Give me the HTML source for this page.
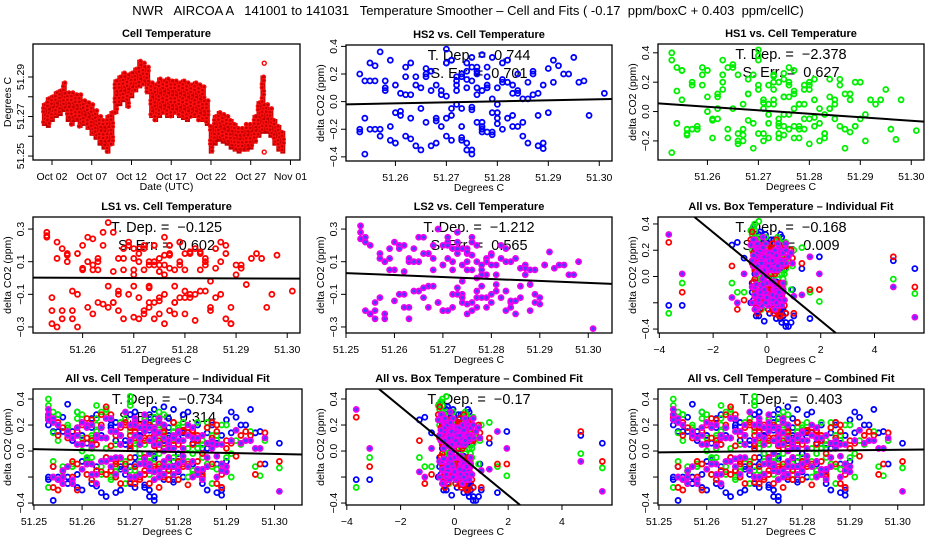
<!DOCTYPE html>
<html><head><meta charset="utf-8">
<style>
html,body{margin:0;padding:0;background:#fff;width:936px;height:540px;overflow:hidden;}
svg{display:block;font-family:"Liberation Sans",sans-serif;overflow:hidden;}
</style></head>
<body>
<svg id="chart" width="936" height="540" viewBox="0 0 936 540" xmlns="http://www.w3.org/2000/svg">
<rect x="0" y="0" width="936" height="540" fill="#fff"/>
<text x="468" y="15" text-anchor="middle" font-size="13" xml:space="preserve">NWR   AIRCOA A   141001 to 141031   Temperature Smoother – Cell and Fits ( -0.17  ppm/boxC + 0.403  ppm/cellC)</text>
</svg>
<script>
// ---------- Panel 1 data: cell temperature time series (half-day bands) ----------
const days = [1,1.5,2,2.5,3,3.5,4,4.5,5,5.5,6,6.5,7,7.5,8,8.5,9,9.5,10,10.5,11,11.5,12,12.5,13,13.5,14,14.5,15,15.5,16,16.5,17,17.5,18,18.5,19,19.5,20,20.5,21,21.5,22,22.5,23,23.5,24,24.5,25,25.5,26,26.5,27,27.5,28,28.5,29,29.5,30,30.5,31];
const tempLow = [51.266,51.265,51.268,51.270,51.271,51.273,51.268,51.266,51.268,51.265,51.266,51.264,51.261,51.259,51.256,51.254,51.252,51.256,51.272,51.276,51.278,51.275,51.280,51.283,51.285,51.286,51.282,51.270,51.268,51.270,51.272,51.270,51.270,51.272,51.270,51.269,51.268,51.270,51.270,51.268,51.268,51.266,51.252,51.256,51.258,51.257,51.256,51.254,51.253,51.252,51.253,51.253,51.254,51.257,51.260,51.262,51.262,51.260,51.256,51.253,51.252];
const tempHigh = [51.276,51.279,51.280,51.282,51.283,51.287,51.282,51.282,51.281,51.281,51.278,51.277,51.276,51.273,51.270,51.268,51.270,51.272,51.288,51.290,51.292,51.291,51.292,51.294,51.298,51.297,51.295,51.287,51.286,51.289,51.288,51.289,51.288,51.288,51.287,51.288,51.287,51.286,51.287,51.286,51.285,51.278,51.265,51.270,51.272,51.271,51.270,51.268,51.266,51.264,51.264,51.266,51.266,51.270,51.277,51.290,51.276,51.274,51.268,51.265,51.262];
const outlierDays = [28.7,28.7];
const outlierTemps = [51.297,51.252];

// ---------- Scatter data ----------
const cellTemp = [
51.253,51.254,51.255,51.256,51.257,51.258,51.259,51.260,51.261,51.262,
51.263,51.264,51.265,51.266,51.267,51.268,51.269,51.270,51.271,51.272,
51.273,51.274,51.275,51.276,51.277,51.278,51.279,51.280,51.281,51.282,
51.283,51.284,51.285,51.286,51.287,51.288,51.289,51.290,51.291,51.293,
51.253,51.255,51.257,51.258,51.260,51.262,51.263,51.265,51.266,51.268,
51.269,51.270,51.271,51.272,51.273,51.274,51.275,51.275,51.276,51.277,
51.278,51.279,51.280,51.281,51.283,51.284,51.286,51.288,51.290,51.294,
51.254,51.256,51.259,51.261,51.264,51.267,51.270,51.272,51.273,51.274,
51.275,51.276,51.277,51.278,51.280,51.282,51.285,51.287,51.289,51.295,
51.262,51.266,51.270,51.272,51.274,51.276,51.279,51.283,51.297,51.301,
51.254,51.257,51.259,51.261,51.263,51.265,51.267,51.268,51.269,51.270,
51.271,51.272,51.273,51.274,51.275,51.276,51.277,51.278,51.279,51.280,
51.281,51.282,51.284,51.286,51.288,51.292,51.255,51.258,51.260,51.262,
51.264,51.266,51.268,51.270,51.271,51.273,51.274,51.275,51.276,51.277,
51.278,51.279,51.281,51.283,51.285,51.287,51.289,51.291,51.253,51.256,
51.263,51.267,51.271,51.273,51.275,51.277,51.280,51.284,51.296,51.298];
const boxTemp = [
-0.45,0.30,-0.35,0.50,-0.55,0.05,0.40,-0.20,0.25,-0.10,
0.55,-0.30,-0.05,0.35,-0.40,0.60,-0.15,-0.50,0.20,0.10,
0.45,-0.25,0.70,-0.35,0.30,0.00,0.15,0.40,-0.10,-0.30,
0.50,-0.20,0.60,0.10,-0.45,0.35,0.25,-0.05,0.55,-0.25,
-3.65,0.45,-0.15,0.30,-0.40,0.65,-0.30,-0.55,0.40,0.05,
-0.20,0.50,-0.10,0.25,-0.50,0.35,0.80,-0.20,0.10,-0.35,
0.15,0.45,-0.25,0.30,0.00,0.55,-0.05,0.40,-1.30,0.20,
0.70,-0.40,0.50,-0.15,-0.45,1.60,-0.30,0.20,-0.35,0.60,
-0.05,-0.35,0.45,-0.10,0.30,-0.20,0.55,-0.40,1.00,-0.30,
0.35,-0.10,-0.55,0.25,0.90,-0.45,-3.15,4.70,1.95,5.50,
-0.30,0.40,-0.10,0.20,-0.45,0.55,0.00,-0.25,0.35,0.15,
-0.35,0.60,0.10,-0.15,0.45,-0.05,0.25,-0.40,0.50,0.05,
-0.20,0.30,0.65,-0.30,0.15,-0.50,0.40,-0.10,0.20,-0.25,
0.50,-0.40,0.10,0.35,-0.15,0.55,-0.35,0.00,0.30,-0.05,
0.45,-0.20,0.25,0.60,-0.45,0.15,-0.10,0.40,-0.60,-1.10,
0.20,-0.30,0.70,-0.15,0.35,-0.25,0.05,1.30,-0.85,0.95];
const hs2 = [0.20,-0.12,0.15,-0.20,0.36,0.08,-0.18,0.12,-0.07,0.25,
-0.27,0.18,0.10,-0.15,0.22,-0.30,0.05,0.38,-0.10,0.15,
-0.05,0.28,-0.35,0.20,-0.22,0.10,0.02,-0.12,0.16,0.30,
-0.18,0.08,-0.25,0.14,0.22,-0.32,0.12,-0.08,0.30,0.20,
-0.22,0.28,-0.20,0.15,-0.30,0.05,0.28,-0.05,0.18,-0.12,
0.08,-0.25,0.30,0.12,-0.18,0.22,-0.38,0.15,0.05,-0.15,
0.25,-0.08,0.10,-0.20,0.06,-0.18,0.02,-0.10,0.24,0.20,
-0.38,0.15,-0.28,0.06,0.12,-0.32,0.28,-0.02,0.20,-0.30,
0.32,0.10,-0.20,0.18,-0.08,0.14,-0.15,0.05,-0.30,0.32,
-0.25,0.20,-0.12,0.08,-0.35,0.25,-0.22,0.12,0.15,0.06,
0.15,-0.25,0.30,-0.10,0.05,-0.35,0.22,0.12,-0.18,0.28,
-0.05,0.18,-0.28,0.10,0.25,-0.15,0.08,-0.22,0.32,-0.02,
0.14,-0.12,0.20,-0.30,0.06,0.26,-0.20,0.10,-0.08,0.18,
-0.32,0.24,-0.14,0.04,0.30,-0.26,0.16,-0.06,0.22,-0.18,
0.12,-0.24,0.28,-0.10,0.02,0.20,-0.34,0.14,-0.20,0.26,
-0.12,0.08,-0.28,0.18,-0.04,0.34,-0.16,0.06,0.14,-0.10];
const hs1 = [0.40,-0.08,0.28,-0.15,0.20,-0.10,0.30,0.10,-0.18,0.02,
0.25,-0.12,0.30,-0.20,0.05,0.22,-0.08,0.38,-0.15,0.18,
0.08,-0.05,0.26,-0.12,0.12,-0.18,0.05,0.15,-0.10,0.02,
-0.15,0.10,-0.05,0.22,-0.12,0.08,-0.10,0.20,-0.20,0.05,
-0.28,0.08,0.18,-0.12,0.28,-0.05,0.15,0.32,-0.22,0.12,
-0.25,0.18,0.02,-0.08,0.25,-0.15,0.10,-0.02,0.20,-0.18,
0.05,-0.12,0.20,0.08,-0.15,0.02,-0.10,0.12,-0.05,0.08,
0.14,-0.16,0.25,-0.05,0.30,-0.12,0.42,-0.18,0.15,-0.08,
0.22,-0.02,0.28,-0.10,0.18,-0.20,0.05,-0.25,0.20,0.15,
0.10,-0.15,0.35,0.05,-0.10,0.18,-0.05,-0.02,-0.19,-0.13,
0.30,-0.12,0.18,-0.06,0.35,0.02,-0.20,0.12,0.25,-0.15,
0.08,-0.02,0.20,-0.18,0.10,0.30,-0.10,0.05,0.15,-0.22,
0.22,-0.08,0.02,0.18,-0.14,0.08,0.28,-0.12,0.00,0.12,
-0.18,0.25,-0.06,0.15,-0.20,0.05,0.20,-0.16,0.10,0.02,
-0.12,0.18,-0.04,-0.18,0.08,0.12,-0.10,-0.02,0.35,-0.12,
0.20,-0.16,0.06,0.24,-0.10,0.14,-0.05,0.22,-0.12,0.08];
const ls1 = [0.25,-0.12,0.22,-0.20,0.10,-0.25,0.15,0.05,-0.18,0.08,
-0.15,0.20,-0.05,0.28,-0.20,0.12,-0.10,0.18,-0.25,0.05,
0.10,-0.15,0.08,-0.28,0.15,-0.05,0.22,0.05,-0.12,0.18,
-0.08,0.12,-0.18,0.06,-0.10,0.15,-0.28,0.02,0.08,0.12,
0.26,-0.30,0.14,-0.08,0.20,-0.22,0.10,0.34,-0.15,0.05,
0.22,-0.05,0.15,-0.20,0.08,-0.25,0.12,0.04,-0.10,0.20,
-0.15,0.10,-0.22,0.15,0.05,-0.08,0.18,-0.25,0.08,0.15,
-0.28,0.18,-0.30,0.10,0.28,-0.10,0.05,0.20,-0.18,0.08,
-0.12,0.25,-0.20,0.05,0.15,-0.10,-0.20,0.10,-0.28,0.12,
0.05,-0.15,0.12,-0.22,0.20,0.08,-0.12,0.15,-0.10,-0.08,
-0.20,0.15,-0.10,0.25,0.05,-0.18,0.12,-0.25,0.20,0.02,
-0.12,0.18,-0.05,0.10,-0.22,0.14,0.06,-0.15,0.22,-0.08,
0.16,-0.26,0.08,-0.12,0.20,-0.04,0.12,-0.20,0.06,0.24,
-0.16,0.04,0.18,-0.24,0.10,-0.06,0.20,-0.14,0.02,0.14,
-0.22,0.08,-0.10,0.16,-0.02,0.22,-0.18,0.06,0.28,-0.25,
0.12,-0.08,0.18,-0.15,0.04,0.20,-0.12,0.10,-0.18,0.14];
const ls2 = [0.28,-0.20,0.20,-0.15,0.12,-0.22,0.18,0.05,-0.10,0.20,
-0.18,0.10,0.25,-0.12,0.15,-0.05,0.30,0.08,-0.20,0.18,
0.22,-0.15,0.10,0.25,-0.08,0.05,-0.18,0.15,0.02,-0.12,
0.10,-0.15,0.12,-0.05,0.08,-0.20,0.05,-0.12,0.08,0.06,
0.32,-0.22,0.15,-0.25,0.22,-0.18,0.10,-0.08,0.25,0.05,
-0.15,0.20,0.12,-0.18,0.28,-0.10,0.15,-0.22,0.05,0.20,
-0.05,0.12,-0.15,0.08,-0.20,0.10,-0.12,0.05,-0.16,0.08,
0.25,-0.25,0.12,0.20,-0.08,0.15,-0.20,0.10,0.18,-0.12,
0.05,0.22,-0.18,0.08,-0.10,0.12,-0.22,0.02,-0.15,0.08,
-0.10,0.15,-0.20,0.05,0.18,-0.15,0.02,-0.08,0.02,-0.31,
0.22,-0.12,0.05,0.18,-0.25,0.10,-0.05,0.20,-0.15,0.08,
0.25,-0.10,0.15,-0.02,0.18,-0.20,0.10,0.02,-0.12,0.14,
-0.08,0.20,-0.18,0.06,-0.04,0.16,-0.22,0.10,-0.14,0.04,
0.18,-0.06,0.12,-0.20,0.22,-0.10,0.08,-0.16,0.14,0.00,
-0.12,0.10,-0.04,0.18,-0.14,0.06,-0.10,0.08,0.24,-0.20,
0.12,-0.18,0.20,-0.06,0.16,-0.12,0.08,-0.14,0.02,0.10];

// fit slopes and zero crossings
const fitSlopes = [0.744,-2.378,-0.125,-1.212,-0.168,-0.734,-0.17,0.403];
const fitCenters = [51.277,51.2736,51.27,51.275,0.0,51.27,0.0,51.276];

const dateTicks = [2,7,12,17,22,27,32];
const dateLabels = ["Oct 02","Oct 07","Oct 12","Oct 17","Oct 22","Oct 27","Nov 01"];

const NS = "http://www.w3.org/2000/svg";
const svg = document.getElementById('chart');
function el(tag, attrs, parent){
  const e = document.createElementNS(NS, tag);
  for (const k in attrs) e.setAttribute(k, attrs[k]);
  (parent||svg).appendChild(e);
  return e;
}
function txt(str, attrs, parent){ const t = el('text', attrs, parent); t.textContent = str; return t; }
function mkScale(d0,d1,r0,r1){ return v => r0 + (v-d0)/(d1-d0)*(r1-r0); }

const SER = {
  hs2:{y:hs2, stroke:'#0000ff', fill:'none'},
  hs1:{y:hs1, stroke:'#00ee00', fill:'none'},
  ls1:{y:ls1, stroke:'#ff0000', fill:'none'},
  ls2:{y:ls2, stroke:'#f000f0', fill:'#4040ff'}
};

function frame(p, g){
  const clipId = 'clip-' + p.name;
  const cp = el('clipPath', {id: clipId}, g);
  el('rect', {x:p.L, y:p.T, width:p.R-p.L, height:p.B-p.T}, cp);
  const t = txt(p.title, {x:(p.L+p.R)/2, y:p.T-7, 'text-anchor':'middle', 'font-size':11, 'font-weight':'bold'}, g);
  
  
  const xt = txt(p.xlab, {x:(p.L+p.R)/2, y:p.B+30, 'text-anchor':'middle', 'font-size':10.5}, g);
  
  
  const yx = p.L-22, yy = (p.T+p.B)/2;
  const yt = txt(p.ylab, {x:yx, y:yy, 'text-anchor':'middle', 'font-size':10.5, transform:`rotate(-90 ${yx} ${yy})`}, g);
  
  
  const xa = el('g', {}, g);
  
  
  p.xticks.forEach((v,i) => {
    const x = p.sx(v);
    el('line', {x1:x, x2:x, y1:p.B, y2:p.B+5, stroke:'#000'}, xa);
    const lab = p.xlabels[i];
    if (lab !== '') {
      const tl = txt(lab, {x:x, y:p.B+20, 'text-anchor':'middle', 'font-size':10.5}, xa);
      
      
    }
  });
  const ya = el('g', {}, g);
  
  
  p.yticks.forEach((v,i) => {
    const y = p.sy(v);
    el('line', {x1:p.L-5, x2:p.L, y1:y, y2:y, stroke:'#000'}, ya);
    const lab = p.ylabels[i];
    if (lab !== '') {
      const tx = p.L-9;
      const tl = txt(lab, {x:tx, y:y, 'text-anchor':'middle', 'font-size':10.5, transform:`rotate(-90 ${tx} ${y})`}, ya);
      
      
    }
  });
  return clipId;
}

function finishBox(p, g){
  const b = el('rect', {x:p.L, y:p.T, width:p.R-p.L, height:p.B-p.T, fill:'none', stroke:'#000', 'stroke-width':1.3}, g);
  
  
}

// ---------- Panel 1 ----------
(function(){
  const p = {name:'p1', L:33, R:300, T:44, B:160, title:'Cell Temperature', xlab:'Date (UTC)', ylab:'Degrees C'};
  p.sx = mkScale(-0.39, 33.2, p.L, p.R);
  p.sy = mkScale(51.248, 51.3067, p.B, p.T);
  p.xticks = dateTicks; p.xlabels = dateLabels;
  p.yticks = [51.25,51.26,51.27,51.28,51.29];
  p.ylabels = ['51.25','','51.27','','51.29'];
  const g = el('g', {});
  
  
  const clip = frame(p, g);
  const pts = el('g', {'clip-path':`url(#${clip})`}, g);
  
  
  days.forEach((d,i) => {
    const x = p.sx(d), y1 = p.sy(tempHigh[i]), y2 = p.sy(tempLow[i]);
    const band = el('rect', {x:x-2.2, y:y1-1.5, width:5, height:y2-y1+3, fill:'#c00000'}, pts);
    
    
    for (let yy = y1; yy <= y2; yy += 3.5) {
      el('circle', {cx:x-0.5+((Math.round(yy)%2)*1.5), cy:yy, r:1.9, fill:'none', stroke:'#ff1010', 'stroke-width':1.2}, pts);
    }
  });
  outlierDays.forEach((d,i) => {
    const c = el('circle', {cx:p.sx(d), cy:p.sy(outlierTemps[i]), r:2, fill:'none', stroke:'#ff0000', 'stroke-width':1.4}, pts);
    
    
  });
  finishBox(p, g);
})();

// ---------- Scatter panels ----------
const cellTicks = [51.25,51.26,51.27,51.28,51.29,51.30];
const cellTickLabels = ['51.25','51.26','51.27','51.28','51.29','51.30'];
const cellTickLabelsNo25 = ['','51.26','51.27','51.28','51.29','51.30'];
const boxTicks = [-4,-2,0,2,4];
const boxTickLabels = ['−4','−2','0','2','4'];
const YL = 'delta CO2 (ppm)';

const panels = [
  {name:'hs2', L:346,R:612,T:45,B:161, title:'HS2 vs. Cell Temperature', xd:[51.2503,51.3025], yd:[-0.43,0.41], xt:cellTicks, xl:cellTickLabelsNo25, yt:[-0.4,-0.2,0,0.2,0.4], yl:['−0.4','−0.2','0.0','0.2','0.4'], series:['hs2'], box:false, fit:0, ann:['T. Dep. =  0.744','S. Err. =  0.701']},
  {name:'hs1', L:658,R:924,T:44,B:160, title:'HS1 vs. Cell Temperature', xd:[51.2503,51.3025], yd:[-0.33,0.46], xt:cellTicks, xl:cellTickLabelsNo25, yt:[-0.2,0,0.2,0.4], yl:['−0.2','0.0','0.2','0.4'], series:['hs1'], box:false, fit:1, ann:['T. Dep. =  −2.378','S. Err. =  0.627']},
  {name:'ls1', L:33,R:300,T:217,B:333, title:'LS1 vs. Cell Temperature', xd:[51.2503,51.3025], yd:[-0.337,0.374], xt:cellTicks, xl:cellTickLabelsNo25, yt:[-0.3,-0.1,0.1,0.3], yl:['−0.3','−0.1','0.1','0.3'], series:['ls1'], box:false, fit:2, ann:['T. Dep. =  −0.125','S. Err. =  0.602']},
  {name:'ls2', L:346,R:612,T:217,B:333, title:'LS2 vs. Cell Temperature', xd:[51.25,51.3049], yd:[-0.337,0.374], xt:cellTicks, xl:cellTickLabels, yt:[-0.3,-0.1,0.1,0.3], yl:['−0.3','−0.1','0.1','0.3'], series:['ls2'], box:false, fit:3, ann:['T. Dep. =  −1.212','S. Err. =  0.565']},
  {name:'all-box-individual', L:658,R:924,T:217,B:333, title:'All vs. Box Temperature – Individual Fit', xd:[-4.05,5.84], yd:[-0.43,0.453], xt:boxTicks, xl:boxTickLabels, yt:[-0.4,-0.2,0,0.2,0.4], yl:['−0.4','','0.0','0.2','0.4'], series:['hs2','hs1','ls1','ls2'], box:true, fit:4, ann:['T. Dep. =  −0.168','S. Err. =  0.009']},
  {name:'all-cell-individual', L:33,R:302,T:389,B:505, title:'All vs. Cell Temperature – Individual Fit', xd:[51.2498,51.3057], yd:[-0.415,0.477], xt:cellTicks, xl:cellTickLabels, yt:[-0.4,-0.2,0,0.2,0.4], yl:['−0.4','','0.0','0.2','0.4'], series:['hs2','hs1','ls1','ls2'], box:false, fit:5, ann:['T. Dep. =  −0.734','S. Err. =  0.314']},
  {name:'all-box-combined', L:346,R:612,T:389,B:505, title:'All vs. Box Temperature – Combined Fit', xd:[-4.03,5.86], yd:[-0.415,0.477], xt:boxTicks, xl:boxTickLabels, yt:[-0.4,-0.2,0,0.2,0.4], yl:['−0.4','','0.0','0.2','0.4'], series:['hs2','hs1','ls1','ls2'], box:true, fit:6, ann:['T. Dep. =  −0.17']},
  {name:'all-cell-combined', L:658,R:924,T:389,B:505, title:'All vs. Cell Temperature – Combined Fit', xd:[51.2498,51.3055], yd:[-0.415,0.477], xt:cellTicks, xl:cellTickLabels, yt:[-0.4,-0.2,0,0.2,0.4], yl:['−0.4','','0.0','0.2','0.4'], series:['hs2','hs1','ls1','ls2'], box:false, fit:7, ann:['T. Dep. =  0.403']}
];

panels.forEach(p => {
  p.xlab = 'Degrees C'; p.ylab = YL;
  p.sx = mkScale(p.xd[0], p.xd[1], p.L, p.R);
  p.sy = mkScale(p.yd[0], p.yd[1], p.B, p.T);
  p.xticks = p.xt.filter(v => v >= p.xd[0] && v <= p.xd[1]);
  p.xlabels = p.xt.map((v,i)=>p.xl[i]).filter((l,i) => p.xt[i] >= p.xd[0] && p.xt[i] <= p.xd[1]);
  p.yticks = p.yt; p.ylabels = p.yl;
  const g = el('g', {});
  
  
  const clip = frame(p, g);
  const xs = p.box ? boxTemp : cellTemp;
  p.ann.forEach((a,i) => {
    const t = txt(a, {x:(p.L+p.R)/2, y:p.T+15+i*18, 'text-anchor':'middle', 'font-size':14.5, 'xml:space':'preserve'}, g);
    t.style.whiteSpace = 'pre';
    
    
  });
  const pg = el('g', {'clip-path':`url(#${clip})`}, g);
  
  
  p.series.forEach(sn => {
    const s = SER[sn];
    const sg = el('g', {}, pg);
    
    
    xs.forEach((xv,i) => {
      const c = el('circle', {cx:p.sx(xv), cy:p.sy(s.y[i]), r:2.5, fill:s.fill, stroke:s.stroke, 'stroke-width':1.8}, sg);
      
      
    });
  });
  // fit line, clipped analytically to the y-domain so it never leaves the frame
  const slope = fitSlopes[p.fit], c0 = fitCenters[p.fit];
  let xa = p.xd[0], xb = p.xd[1];
  if (slope !== 0) {
    const xAtTop = c0 + p.yd[1]/slope, xAtBot = c0 + p.yd[0]/slope;
    const lo = Math.min(xAtTop, xAtBot), hi = Math.max(xAtTop, xAtBot);
    xa = Math.max(xa, lo); xb = Math.min(xb, hi);
  }
  const fl = el('line', {x1:p.sx(xa), y1:p.sy(slope*(xa-c0)), x2:p.sx(xb), y2:p.sy(slope*(xb-c0)), stroke:'#000', 'stroke-width':2, 'clip-path':`url(#${clip})`}, g);
  
  
  finishBox(p, g);
});
</script>
</body></html>
